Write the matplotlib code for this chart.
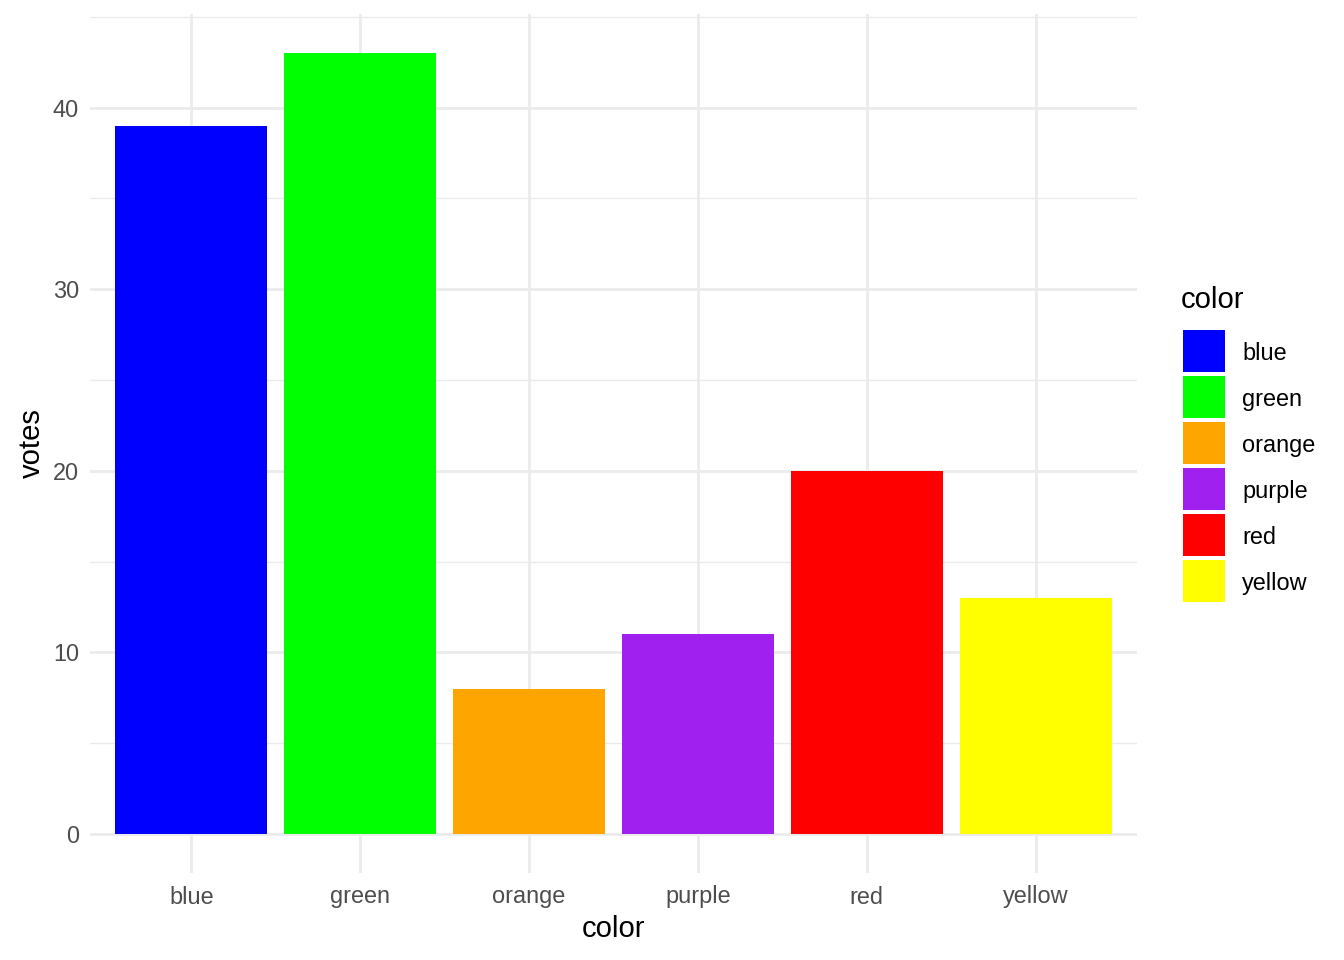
import matplotlib
matplotlib.use("Agg")
import matplotlib.pyplot as plt
from matplotlib.patches import Rectangle

categories = ["blue", "green", "orange", "purple", "red", "yellow"]
votes = [39, 43, 8, 11, 20, 13]
fill_colors = ["#0000FF", "#00FF00", "#FFA500", "#A020F0", "#FF0000", "#FFFF00"]
y_ticks = [0, 10, 20, 30, 40]
y_minor = [5, 15, 25, 35, 45]

plt.rcParams['font.family'] = ['Liberation Sans', 'DejaVu Sans']

W, H = 1344, 960
fig = plt.figure(figsize=(W / 100, H / 100), dpi=100)
left, right, top, bottom = 90, 1137, 14, 873
ax = fig.add_axes([left / W, (H - bottom) / H, (right - left) / W, (bottom - top) / H])

x = list(range(len(categories)))
bars = ax.bar(x, votes, width=0.9, color=fill_colors, zorder=3, linewidth=0)

ax.set_xlim(-0.6, len(categories) - 0.4)
ax.set_ylim(-0.05 * max(votes), 1.05 * max(votes))

grid_col = "#EBEBEB"
ax.set_yticks(y_ticks)
ax.set_yticks(y_minor, minor=True)
ax.set_xticks(x)
ax.set_xticklabels(categories)
ax.grid(True, which="major", color=grid_col, linewidth=2.0, zorder=0)
ax.grid(True, which="minor", axis="y", color=grid_col, linewidth=1.0, zorder=0)
for s in ax.spines.values():
    s.set_visible(False)
ax.tick_params(which="both", length=0)
ax.tick_params(axis="both", labelsize=16.9, labelcolor="#4D4D4D")
ax.tick_params(axis="x", pad=9)
ax.tick_params(axis="y", pad=8)

ax.set_xlabel("color", fontsize=21.1, color="black", labelpad=5)
ax.set_ylabel("votes", fontsize=21.1, color="black", labelpad=5)

# Legend (ggplot-style), built from the category / colour lists
key_x, key_top, key_size, key_step = 1183, 330, 42, 46
fig.text(1181 / W, 1 - 300 / H, "color", fontsize=21.1, ha="left", va="center")
for i, (lab, col) in enumerate(zip(categories, fill_colors)):
    ytop = key_top + i * key_step
    fig.add_artist(Rectangle((key_x / W, 1 - (ytop + key_size) / H),
                             key_size / W, key_size / H,
                             transform=fig.transFigure, facecolor=col,
                             edgecolor="none"))
    fig.text(1242 / W, 1 - (ytop + key_size / 2) / H, lab, fontsize=16.9,
             ha="left", va="center_baseline")

fig.savefig("out.png", dpi=100)
